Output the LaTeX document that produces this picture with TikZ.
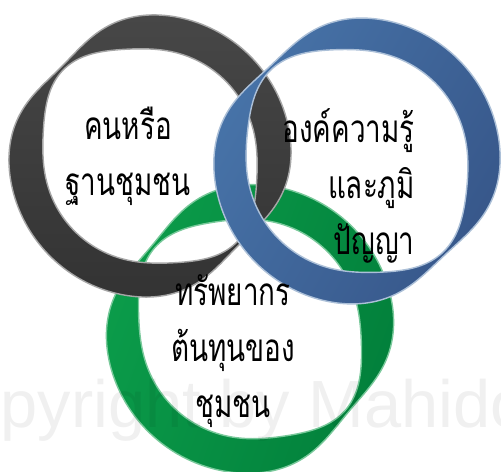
\documentclass[tikz,border=0pt]{standalone}
\usepackage{fontspec}
\setmainfont{Liberation Sans}
\newfontfamily\thaifont[Script=Thai, FakeStretch=0.72]{Loma}
\usetikzlibrary{positioning}
\definecolor{cdark}{HTML}{474747}
\definecolor{cdarklo}{HTML}{333333}
\definecolor{cblue}{HTML}{4773A8}
\definecolor{cbluelo}{HTML}{37578A}
\definecolor{cgreen}{HTML}{0B9C4A}
\definecolor{cgreenlo}{HTML}{02803B}
\tikzset{
  every picture/.style={x=0.02cm, y=0.02cm},
  ringtext/.style={font=\thaifont\fontsize{22}{32}\selectfont, align=#1, inner sep=0pt},
  ringtext/.default=center,
  wmark/.style={font=\fontsize{38}{38}\selectfont, text=black, opacity=0.06, inner sep=0pt},
}
% twisted ring: centre, mid radius, half width, twist angle, look
\newcommand{\twistring}[5]{%
  \path[shift={(#1)}, even odd rule, line width=0.8pt, #5]
    plot[variable=\t, domain=0:360, samples=241] (\t:{#2+#3*(1-0.9*(cos(\t-#4)*cos(\t-#4))^5)}) -- cycle
    plot[variable=\t, domain=0:360, samples=241] (\t:{#2-#3*(1-0.9*(cos(\t-#4)*cos(\t-#4))^5)}) -- cycle;
}
\begin{document}
\begin{tikzpicture}
  \useasboundingbox[fill=white] (0,0) rectangle (501,472);
  % rings, bottom to top
  \twistring{250,143}{127}{17.5}{140}{draw=cgreen!55!white, left color=cgreen, right color=cgreenlo, shading angle=70}
  \twistring{150,316}{124}{17.5}{135}{draw=gray!70, top color=cdark, bottom color=cdarklo}
  \twistring{357,311}{127}{16.5}{133}{draw=cblue!45!white, left color=cblue, right color=cbluelo, shading angle=60}
  % texts
  \node[ringtext] (people) at (128,316) {คนหรือ\\ฐานชุมชน};
  \node[ringtext=right, anchor=east] (knowledge) at (415,286) {องค์ความรู้\\และภูมิ\\ปัญญา};
  \node[ringtext] (resource) at (233,121) {ทรัพยากร\\ต้นทุนของ\\ชุมชน};
  \node[wmark, anchor=base west] (copyright) at (-85,44) {Copyright by Mahidol};
\end{tikzpicture}
\end{document}
